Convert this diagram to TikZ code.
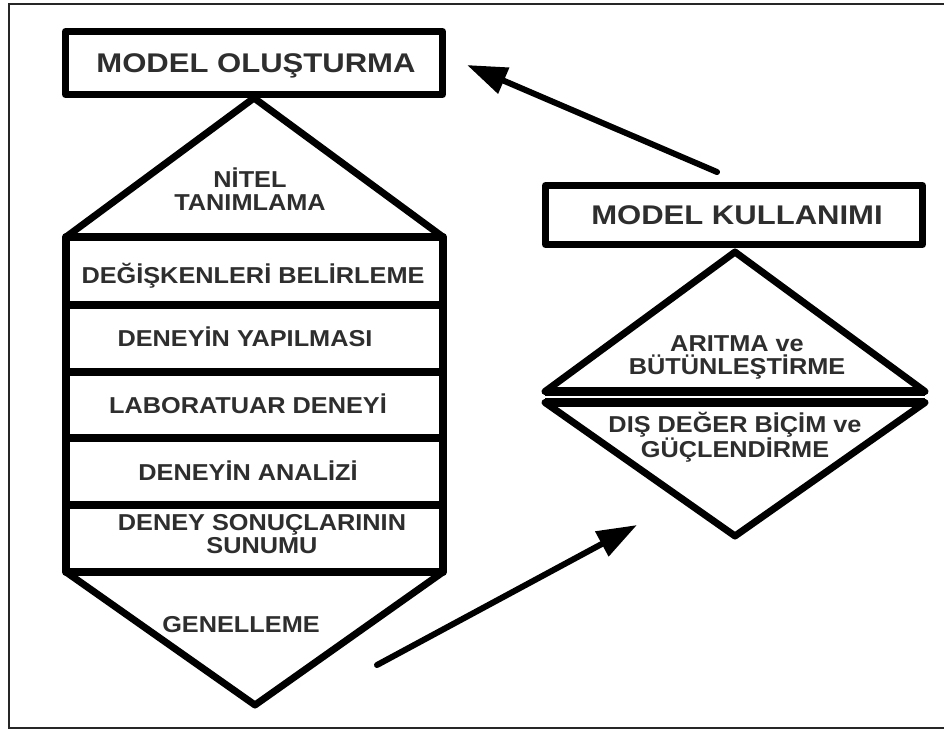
\documentclass[tikz,border=0pt]{standalone}
\usepackage{fontspec}
\setmainfont{Liberation Sans}
\usetikzlibrary{arrows.meta}
\definecolor{ink}{gray}{0.18}
% labels are set in a slightly widened bold sans
\newcommand{\widetxt}[1]{\scalebox{1.15}[1]{#1}}
\newcommand{\steptxtw}[1]{\scalebox{1.1}[1]{#1}}

\begin{document}
\begin{tikzpicture}[x=1pt,y=-1pt,
  heavy/.style={draw=black, line width=7pt, fill=white, line join=round},
  titletxt/.style={font=\bfseries\fontsize{27}{30}\selectfont, text=ink,
    text height=19.3pt, text depth=0pt, inner sep=0pt},
  steptxt/.style={font=\bfseries\fontsize{23}{23}\selectfont, text=ink,
    inner sep=0pt, anchor=base},
  pairtxt/.style={font=\bfseries\fontsize{23}{23}\selectfont, text=ink,
    inner sep=0pt, align=center},
  edge/.style={draw=black, line width=7pt, line join=round, line cap=round},
  sep/.style={draw=black, line width=8pt},
  flow/.style={draw=black, line width=6pt, line cap=round,
    -{Triangle[length=40pt,width=27pt]}}]

\useasboundingbox (0,0) rectangle (944,729);
\fill[white] (0,0) rectangle (944,729);

% outer frame
\draw[line width=2pt, black!85] (946,4) -- (8.5,4) -- (8.5,727.5) -- (946,727.5);

% ---------- left column: model building ----------
% top triangle and bottom triangle
\draw[edge] (66,237) -- (254,98) -- (443,237);
\draw[edge] (66,572) -- (255,705) -- (443,572);
% stacked steps
\draw[edge, line width=8pt] (66,237) rectangle (443,572);
\foreach \yy in {305,372,438,505} \draw[sep] (66,\yy) -- (443,\yy);

\node[heavy, minimum width=377pt, minimum height=63pt] (mo) at (254,63) {};
\node[titletxt] (motxt) at (256,63) {\widetxt{MODEL OLUŞTURMA}};

\node[pairtxt] (nitel) at (250,189) {\steptxtw{NİTEL}\\\steptxtw{TANIMLAMA}};
\node[steptxt] (s1) at (253,283) {\steptxtw{DEĞİŞKENLERİ BELİRLEME}};
\node[steptxt] (s2) at (245,346) {\steptxtw{DENEYİN YAPILMASI}};
\node[steptxt] (s3) at (248,413) {\steptxtw{LABORATUAR DENEYİ}};
\node[steptxt] (s4) at (248,480) {\steptxtw{DENEYİN ANALİZİ}};
\node[pairtxt] (s5) at (262,534) {\steptxtw{DENEY SONUÇLARININ}\\\steptxtw{SUNUMU}};
\node[steptxt] (gen) at (241,632) {\steptxtw{GENELLEME}};

% ---------- right column: model use ----------
\draw[edge] (545,391.5) -- (735,252) -- (925,391.5);
\draw[sep, line width=9pt] (545,391.5) -- (925,391.5);
\draw[edge] (545,402.5) -- (735,536) -- (925,402.5);
\draw[sep, line width=9pt] (545,402.5) -- (925,402.5);

\node[heavy, minimum width=377pt, minimum height=59pt] (mk) at (734,215) {};
\node[titletxt] (mktxt) at (737,215) {\widetxt{MODEL KULLANIMI}};

\node[pairtxt] (arit) at (737,357) {\steptxtw{ARITMA ve}\\\steptxtw{BÜTÜNLEŞTİRME}};
\node[pairtxt] (dis) at (735,437) {\steptxtw{DIŞ DEĞER BİÇİM ve}\\\steptxtw{GÜÇLENDİRME}};

% ---------- feedback arrows ----------
\coordinate (up0) at (717,172);
\coordinate (up1) at (467,65);
\coordinate (dn0) at (377,665);
\coordinate (dn1) at (637,525);
\draw[flow] (up0) -- (up1);
\draw[flow] (dn0) -- (dn1);
\end{tikzpicture}
\end{document}
